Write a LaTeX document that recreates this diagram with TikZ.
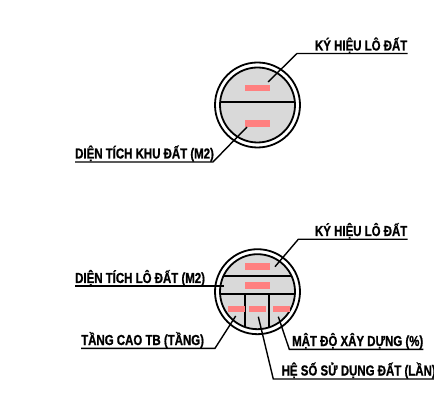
\documentclass[tikz,border=0pt]{standalone}
\usepackage{fontspec}
\setmainfont{Liberation Sans}[FakeStretch=0.79]
\usetikzlibrary{positioning,calc}

\begin{document}
\begin{tikzpicture}[x=1pt,y=-1pt,
			ring/.style={circle, draw=black, line width=1.8pt, inner sep=0, outer sep=0},
			disc/.style={ring, fill=black!15},
			bar/.style={rectangle, fill=red!50, inner sep=0, minimum width=25pt, minimum height=6.5pt},
			smallbar/.style={bar, minimum width=17pt},
			lbl/.style={inner sep=0, font=\fontsize{14.5}{17}\selectfont\addfontfeature{FakeBold=1}\bfseries},
			divider/.style={line width=1.8pt},
			leader/.style={line width=1.4pt}]

			\useasboundingbox (0,0) rectangle (434,406);

			% upper symbol
			\node[ring, minimum size=85pt] (outerA) at (257.5,105) {};
			\node[disc, minimum size=75pt] (innerA) at (outerA.center) {};
			\begin{scope}
				\clip (innerA.center) circle (37.5);
				\draw[divider] (200,102) -- (315,102);
			\end{scope}
			\node[bar] (kyhieuA) at (257.5,88) {};
			\node[bar] (dientichA) at (257.5,123.5) {};

			\node[lbl, anchor=base east] (lblKyA) at (407.5,50.5) {KÝ HIỆU LÔ ĐẤT};
			\node[lbl, anchor=base west] (lblDtA) at (75,158.5) {DIỆN TÍCH KHU ĐẤT (M2)};

			\coordinate (kyA1) at (268,82);
			\coordinate (kyA2) at (297,53.5);
			\coordinate (dtA1) at (247,127);
			\coordinate (dtA2) at (213,162);
			\draw[leader] (kyA1) -- (kyA2) -- (kyA2 -| lblKyA.east);
			\draw[leader] (dtA1) -- (dtA2) -- (dtA2 -| lblDtA.west);

			% lower symbol
			\node[ring, minimum size=85pt] (outerB) at (257.5,291.7) {};
			\node[disc, minimum size=75pt] (innerB) at (outerB.center) {};
			\begin{scope}
				\clip (innerB.center) circle (37.5);
				\draw[divider] (200,276) -- (315,276);
				\draw[divider] (200,294.3) -- (315,294.3);
				\draw[divider] (245,294.3) -- (245,340);
				\draw[divider] (269.3,294.3) -- (269.3,340);
			\end{scope}
			\node[bar] (kyhieuB) at (257,266.7) {};
			\node[bar] (dientichB) at (257,285.5) {};
			\node[smallbar] (tangcao) at (236,309) {};
			\node[smallbar] (heso) at (257.5,309) {};
			\node[smallbar] (matdo) at (281,309) {};

			\node[lbl, anchor=base east] (lblKyB) at (407.5,236) {KÝ HIỆU LÔ ĐẤT};
			\node[lbl, anchor=base west] (lblDtB) at (75,283) {DIỆN TÍCH LÔ ĐẤT (M2)};
			\node[lbl, anchor=base west] (lblTc) at (81,345) {TẦNG CAO TB (TẦNG)};
			\node[lbl, anchor=base west] (lblMd) at (292,346) {MẬT ĐỘ XÂY DỰNG (\%)};
			\node[lbl, anchor=base west] (lblHs) at (281.5,375.5) {HỆ SỐ SỬ DỤNG ĐẤT (LẦN)};

			\coordinate (kyB1) at (275,266.7);
			\coordinate (kyB2) at (298.3,239.3);
			\coordinate (dtB1) at (224,286);
			\coordinate (tc1) at (235.7,316);
			\coordinate (tc2) at (215,348.3);
			\coordinate (md1) at (278.3,316.7);
			\coordinate (md2) at (289.3,349.3);
			\coordinate (hs1) at (258.3,316.7);
			\coordinate (hs2) at (273.3,379);
			\draw[leader] (kyB1) -- (kyB2) -- (kyB2 -| lblKyB.east);
			\draw[leader] (dtB1) -- (dtB1 -| lblDtB.west);
			\draw[leader] (tc1) -- (tc2) -- (tc2 -| lblTc.west);
			\draw[leader] (md1) -- (md2) -- (md2 -| lblMd.east);
			\draw[leader] (hs1) -- (hs2) -- (hs2 -| lblHs.east);
		\end{tikzpicture}
\end{document}
